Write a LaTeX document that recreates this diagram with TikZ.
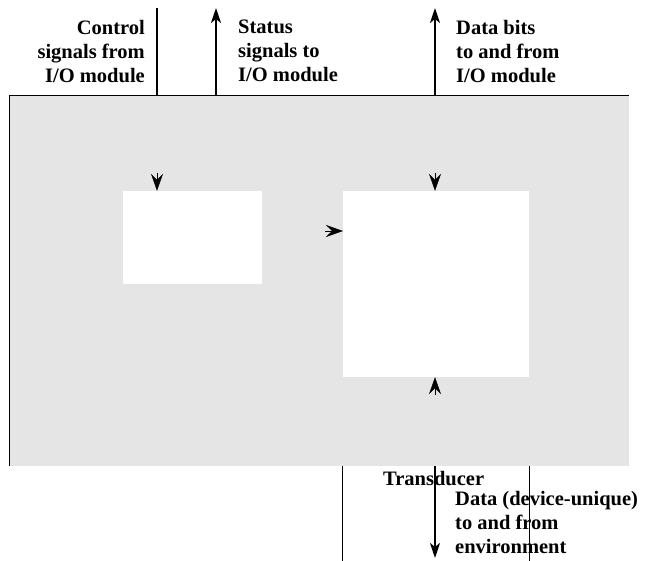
\documentclass[tikz,border=0pt]{standalone}
\usepackage{fontspec}
\setmainfont{Liberation Serif}
\usepackage{tikz}
\usetikzlibrary{arrows.meta, positioning, calc}
\definecolor{panelgray}{RGB}{229,229,229}
\tikzset{
  panel/.style={rectangle, fill=panelgray, inner sep=0pt,
    minimum width=619pt, minimum height=370pt},
  blank/.style={rectangle, fill=white, inner sep=0pt},
  lbl/.style={font=\fontsize{20.5}{24}\selectfont\bfseries, inner sep=0pt},
  bus/.style={line width=2pt, color=black},
  edge/.style={line width=0.8pt, color=black},
  arrow/.style={bus, -{Stealth[length=15pt, width=10pt, inset=4pt]}},
  tip/.style={line width=0.4pt, -{Stealth[length=17pt, width=12pt, inset=6pt]}}
}
\begin{document}
\begin{tikzpicture}[x=1pt, y=-1pt]
  \useasboundingbox (0,0) rectangle (648,561);
  \node[panel] (device) at (319.5,281) {};
  \draw[edge] (device.south west) -- (device.north west) -- (device.north east);
  \node[blank, minimum width=139pt, minimum height=93pt] (ctrl) at (192.5,237.5) {};
  \node[blank, minimum width=186pt, minimum height=186pt] (buf) at (436,284) {};

  \coordinate (ctltop) at (157,8);
  \coordinate (stattop) at (216,8);
  \coordinate (datatop) at (435,8);
  \coordinate (envbot) at (435,558);
  \coordinate (bufin) at (343,231);

  \draw[bus] (ctltop |- device.north) -- (ctltop);
  \draw[arrow] (stattop |- device.north) -- (stattop);
  \draw[arrow] (datatop |- device.north) -- (datatop);
  \draw[arrow] (envbot |- device.south) -- (envbot);
  \draw[edge] (buf.south west |- device.south) -- ++(0,95);
  \draw[edge] (buf.south east |- device.south) -- ++(0,95);

  \draw[tip] (ctltop |- 0,173) -- (ctltop |- ctrl.north);
  \draw[tip] (datatop |- 0,173) -- (datatop |- buf.north);
  \draw[tip] ($(bufin)+(-18,0)$) -- (bufin);
  \draw[tip] (datatop |- 0,395) -- (datatop |- buf.south);

  \node[lbl, anchor=north east, align=right] (ctltxt) at (145,20) {Control\\signals from\\I/O module};
  \node[lbl, anchor=north west, align=left] (stattxt) at (238,20) {Status\\signals to\\I/O module};
  \node[lbl, anchor=north west, align=left] (datatxt) at (456,20) {Data bits\\to and from\\I/O module};
  \node[lbl, anchor=north west] (transtxt) at (383,471) {Transducer};
  \node[lbl, anchor=north west, align=left] (envtxt) at (455,491) {Data (device-unique)\\to and from\\environment};
\end{tikzpicture}
\end{document}
